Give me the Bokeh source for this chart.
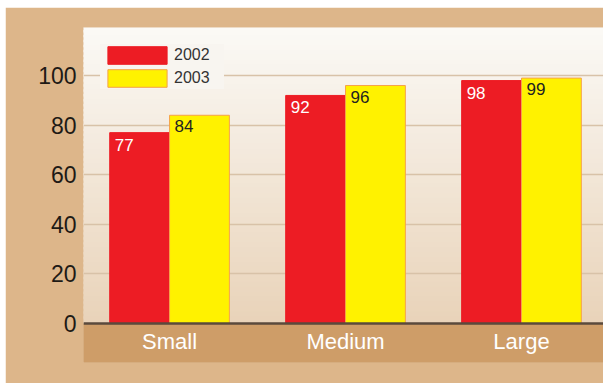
import numpy as np
from bokeh.plotting import figure
from bokeh.models import Range1d, FixedTicker, Legend, LegendItem, ColumnDataSource, Span
from bokeh.core.properties import value
from bokeh.embed import file_html
from bokeh.resources import INLINE

categories = ["Small", "Medium", "Large"]
series_names = ["2002", "2003"]
v2002 = [77, 92, 98]
v2003 = [84, 96, 99]
y_ticks = [0, 20, 40, 60, 80, 100]

FONT = "Liberation Sans"
RED = "#ED1C24"
YELLOW = "#FFF200"
BAND = "#CE9D68"

p = figure(width=598, height=376, output_backend="svg", toolbar_location=None,
           x_range=Range1d(0.011, 2.966), y_range=Range1d(-15.7, 119.4),
           min_border_left=78, min_border_top=20, min_border_right=0, min_border_bottom=21,
           border_fill_color="#DDB68A", background_fill_color=BAND,
           outline_line_color=None, margin=(7, 0, 0, 5))

# background gradient (style only): overlapping strips, drawn top to bottom
n = 60
edges = np.linspace(0, 119.4, n + 1)
top_c = np.array([251, 250, 247])
bot_c = np.array([233, 211, 185])
bots, tops, cols = [], [], []
for k in reversed(range(n)):
    t = (edges[k] + edges[k + 1]) / 2 / 119.4
    c = bot_c + (top_c - bot_c) * t
    cols.append("#%02x%02x%02x" % tuple(int(round(v)) for v in c))
    bots.append(edges[k])
    tops.append(130 if k == n - 1 else edges[k + 1] + 1.0)
p.quad(left=-1, right=4, bottom=bots, top=tops, fill_color=cols,
       line_color=None, level="image")
# bottom band
p.quad(left=[-1], right=[4], bottom=[-20], top=[0], fill_color=BAND,
       line_color=None, level="image")

# gridlines
p.xgrid.visible = False
p.ygrid.ticker = FixedTicker(ticks=y_ticks[1:])
p.ygrid.grid_line_color = "#D8C2A8"
p.ygrid.grid_line_width = 1.5

idx = np.arange(len(categories))
w = 0.34
x_red = idx + 0.5 - w / 2
x_yel = idx + 0.5 + w / 2
src = ColumnDataSource(dict(x_red=x_red, x_yel=x_yel, v2002=v2002, v2003=v2003,
                            l_red=x_red - w / 2, l_yel=x_yel - w / 2,
                            t2002=[str(v) for v in v2002], t2003=[str(v) for v in v2003]))

r1 = p.vbar(x="x_red", top="v2002", width=w, source=src, fill_color=RED,
            line_color=RED, line_width=1)
r2 = p.vbar(x="x_yel", top="v2003", width=w, source=src, fill_color=YELLOW,
            line_color="#F5A24A", line_width=1)

p.text(x="l_red", y="v2002", text="t2002", source=src, x_offset=5, y_offset=6,
       text_font=value(FONT), text_font_size="17px", text_color="white",
       text_baseline="top", text_align="left")
p.text(x="l_yel", y="v2003", text="t2003", source=src, x_offset=5, y_offset=5,
       text_font=value(FONT), text_font_size="17px", text_color="#222222",
       text_baseline="top", text_align="left")

# zero line
p.add_layout(Span(location=0, dimension="width", line_color="#5A4A3C", line_width=2.5))

# category labels in the band
p.text(x=idx + 0.5, y=[-7.3] * len(categories), text=categories,
       text_font=value(FONT), text_font_size="22px", text_color="white",
       text_align="center", text_baseline="middle")

# axes
p.xaxis.visible = False
ya = p.yaxis[0]
ya.ticker = FixedTicker(ticks=y_ticks)
ya.axis_line_color = None
ya.major_tick_line_color = None
ya.minor_tick_line_color = None
ya.major_tick_out = 0
ya.major_label_standoff = 7
ya.major_label_text_font = FONT
ya.major_label_text_font_size = "23px"
ya.major_label_text_color = "#1E1A16"

legend = Legend(items=[LegendItem(label=series_names[0], renderers=[r1]),
                       LegendItem(label=series_names[1], renderers=[r2])],
                location="top_left", margin=17, padding=1, spacing=1,
                glyph_width=74, glyph_height=22, label_height=22, label_width=50,
                label_standoff=0,
                label_text_font=FONT, label_text_font_size="16px", label_text_color="#333333",
                background_fill_color="#F8F5F0", background_fill_alpha=1,
                border_line_color=None)
p.add_layout(legend)

open("out.html", "w").write(file_html(p, INLINE))
